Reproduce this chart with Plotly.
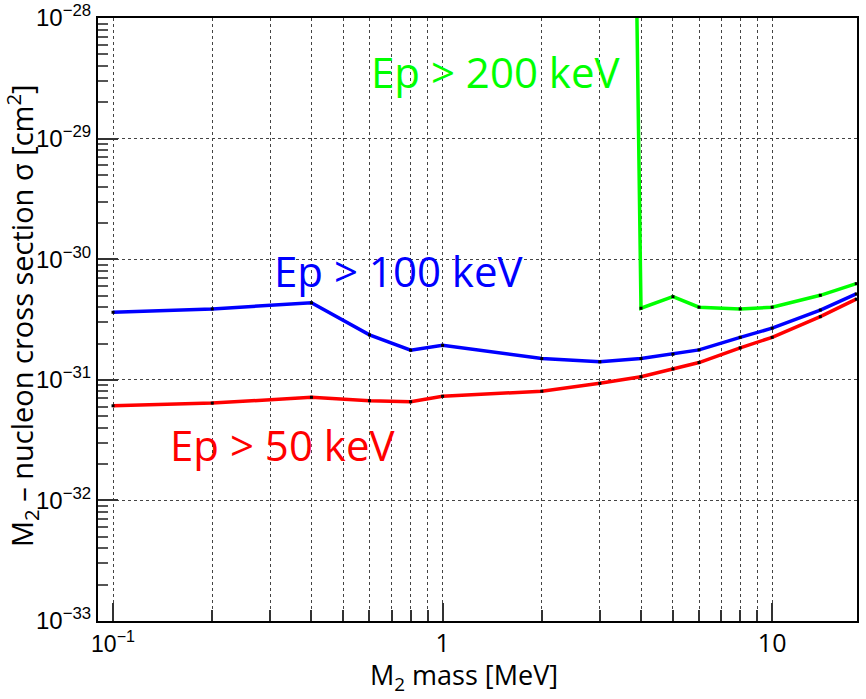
import plotly.graph_objects as go

# M2 mass points [MeV]
mass = [0.1, 0.2, 0.4, 0.6, 0.8, 1, 2, 3, 4, 5, 6, 8, 10, 14, 18]

# Cross-section limits [cm^2] for the three proton-energy thresholds
sigma_50keV = [6.09e-32, 6.41e-32, 7.16e-32, 6.71e-32, 6.58e-32, 7.30e-32, 8.04e-32,
               9.35e-32, 1.06e-31, 1.23e-31, 1.39e-31, 1.84e-31, 2.25e-31, 3.34e-31, 4.66e-31]
sigma_100keV = [3.63e-31, 3.87e-31, 4.35e-31, 2.36e-31, 1.76e-31, 1.93e-31, 1.50e-31,
                1.41e-31, 1.50e-31, 1.63e-31, 1.77e-31, 2.25e-31, 2.68e-31, 3.79e-31, 5.15e-31]
mass_200keV = [3, 4, 5, 6, 8, 10, 14, 18]
sigma_200keV = [1e-6, 3.92e-31, 4.89e-31, 4.00e-31, 3.87e-31, 4.00e-31, 5.02e-31, 6.27e-31]

# Axis ticks
x_major = [0.1, 1, 10]
x_major_text = ["10<sup>\u22121</sup>",
                "<span style='font-family:Open Sans;font-size:25px'>1</span>",
                "<span style='font-family:Open Sans;font-size:25px'>10</span>"]
x_minor = [0.2, 0.3, 0.4, 0.5, 0.6, 0.7, 0.8, 0.9, 2, 3, 4, 5, 6, 7, 8, 9]
y_major = [1e-33, 1e-32, 1e-31, 1e-30, 1e-29, 1e-28]
y_major_text = ["10<sup>\u2212%d</sup>" % p for p in (33, 32, 31, 30, 29, 28)]

labels = [
    ("Ep > 50 keV", "#ff0000", -0.487, -31.54),
    ("Ep > 100 keV", "#0000ff", -0.134, -30.09),
    ("Ep > 200 keV", "#00ff00", 0.162, -28.446),
]

fig = go.Figure()

series = [
    (mass, sigma_50keV, "#ff0000"),
    (mass, sigma_100keV, "#0000ff"),
    (mass_200keV, sigma_200keV, "#00ff00"),
]
for xs, ys, col in series:
    fig.add_trace(go.Scatter(
        x=xs, y=ys, mode="lines+markers",
        line=dict(color=col, width=3.5),
        marker=dict(color="black", size=3, symbol="square"),
        showlegend=False, cliponaxis=True,
    ))

for text, col, lx, ly in labels:
    fig.add_annotation(x=lx, y=ly, xref="x", yref="y", text=text, showarrow=False,
                       font=dict(family="Open Sans", size=42, color=col),
                       xanchor="center", yanchor="middle")

grid = dict(showgrid=True, gridcolor="#444444", gridwidth=1, griddash="dot")

fig.update_xaxes(
    type="log", range=[-1.0456, 1.2575],
    tickmode="array", tickvals=x_major, ticktext=x_major_text,
    ticks="inside", ticklen=18, tickwidth=1.5, tickcolor="#333333",
    tickfont=dict(family="Liberation Sans", size=23, color="black"),
    ticklabelstandoff=1,
    showline=True, mirror=True, linecolor="black", linewidth=2,
    minor=dict(tickmode="array", tickvals=x_minor, ticks="inside", ticklen=11,
               tickwidth=1.5, tickcolor="#333333",
               showgrid=True, gridcolor="#444444", gridwidth=1, griddash="dot"),
    zeroline=False, **grid,
)
fig.update_yaxes(
    type="log", range=[-33, -28],
    tickmode="array", tickvals=y_major, ticktext=y_major_text,
    ticks="inside", ticklen=20, tickwidth=1.5, tickcolor="#333333",
    tickfont=dict(family="Liberation Sans", size=24, color="black"),
    showline=True, mirror=True, linecolor="black", linewidth=2,
    minor=dict(dtick="D1", ticks="inside", ticklen=10, tickwidth=1.5,
               tickcolor="#555555", showgrid=False),
    zeroline=False, **grid,
)

# Axis titles
fig.add_annotation(x=0.4816, y=-0.0925, xref="paper", yref="paper",
                   text="M<sub>2</sub> mass [MeV]", showarrow=False,
                   font=dict(family="Open Sans", size=27, color="black"),
                   xanchor="center", yanchor="middle")
fig.add_annotation(x=-0.100, y=0.506, xref="paper", yref="paper", textangle=-90,
                   text="M<sub>2</sub> \u2013 nucleon cross section \u03c3 [cm<sup>2</sup>]",
                   showarrow=False,
                   font=dict(family="Open Sans", size=29, color="black"),
                   xanchor="center", yanchor="middle")

fig.update_layout(
    width=866, height=699,
    margin=dict(l=98, r=9, t=18, b=78, autoexpand=False),
    paper_bgcolor="white", plot_bgcolor="white",
)

fig.write_html("out.html")
